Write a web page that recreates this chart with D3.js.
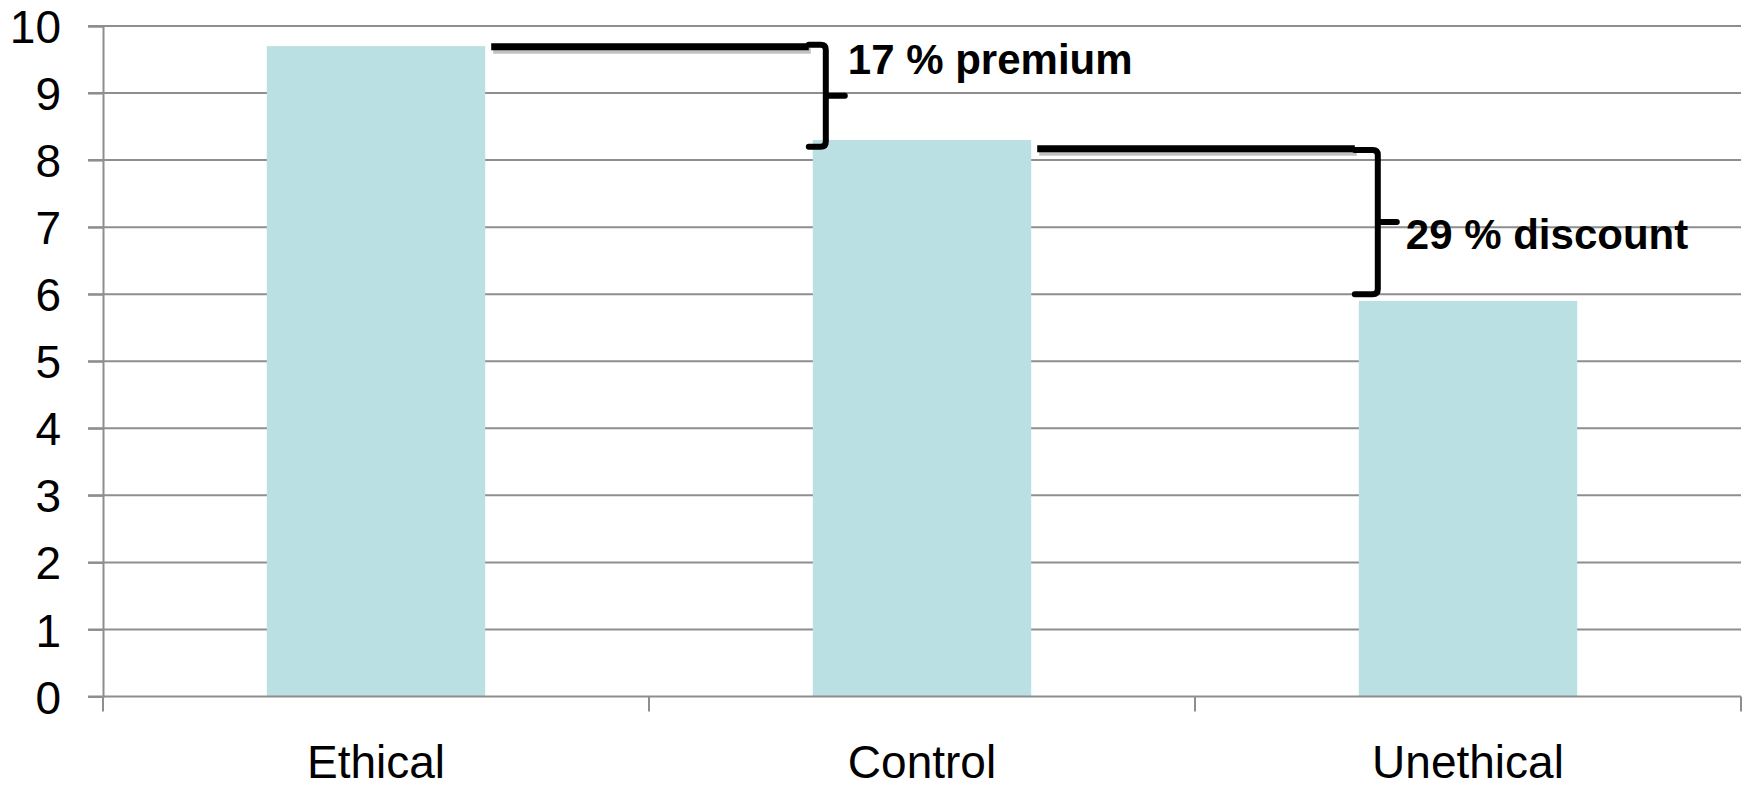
<!DOCTYPE html>
<html>
<head>
<meta charset="utf-8">
<script src="https://cdn.jsdelivr.net/npm/d3@7"></script>
<style>
  html, body { margin: 0; padding: 0; background: #ffffff; }
  svg { display: block; }
  text { font-family: "Liberation Sans", Arial, sans-serif; fill: #000; }
</style>
</head>
<body>
<svg id="chart" width="1746" height="789"></svg>
<script>
// ---- data ----
const categories = ["Ethical", "Control", "Unethical"];
const values = [9.7, 8.3, 5.9];
const yTicks = [0, 1, 2, 3, 4, 5, 6, 7, 8, 9, 10];

// annotations: comparison line drawn from bar "from" to bar "to"
const annFrom = ["Ethical", "Control"];
const annTo = ["Control", "Unethical"];
const annLineValue = [9.69, 8.17];
const annBraceTop = [9.72, 8.15];
const annBraceBottom = [8.2, 6.0];
const annLabels = ["17 % premium", "29 % discount"];
const annLabelBaseline = [9.28, 6.67];
const annBraceOffset = [17, 23];
const annLabelGap = [3, 9];

// ---- layout ----
const W = 1746, H = 789;
const plotLeft = 103, plotRight = 1741, plotTop = 26, plotBottom = 696.5;
const barColor = "#BAE0E3";
const gridColor = "#8E8E8E";

const svg = d3.select("#chart");

const x = d3.scaleBand().domain(categories).range([plotLeft, plotRight]).padding(0);
const y = d3.scaleLinear().domain([0, 10]).range([plotBottom, plotTop]);
const barW = x.bandwidth() * 0.4;
const barX = c => x(c) + (x.bandwidth() - barW) / 2;

// gridlines
svg.append("g").selectAll("line").data(yTicks.filter(t => t > 0)).join("line")
  .attr("x1", plotLeft - 15).attr("x2", plotRight)
  .attr("y1", d => y(d)).attr("y2", d => y(d))
  .attr("stroke", gridColor).attr("stroke-width", 2);

// bars
svg.append("g").selectAll("rect").data(categories).join("rect")
  .attr("x", d => barX(d))
  .attr("width", barW)
  .attr("y", (d, i) => y(values[i]))
  .attr("height", (d, i) => y(0) - y(values[i]))
  .attr("fill", barColor);

// y axis
const yAxis = d3.axisLeft(y).tickValues(yTicks).tickSize(15).tickPadding(27).tickFormat(d3.format("d"));
const gy = svg.append("g").attr("transform", `translate(${plotLeft},0)`).call(yAxis);
gy.select(".domain").attr("stroke", gridColor).attr("stroke-width", 2);
gy.selectAll(".tick line").attr("stroke", gridColor).attr("stroke-width", 2);
gy.selectAll(".tick text").attr("font-size", 46).attr("font-family", "Liberation Sans, Arial, sans-serif")
  .attr("fill", "#000").attr("dy", "0.36em");

// x axis: baseline + boundary ticks
svg.append("line")
  .attr("x1", plotLeft - 15).attr("x2", plotRight)
  .attr("y1", y(0)).attr("y2", y(0))
  .attr("stroke", gridColor).attr("stroke-width", 2);
const boundaries = categories.map(c => x(c)).concat([x(categories[categories.length - 1]) + x.bandwidth()]);
svg.append("g").selectAll("line").data(boundaries).join("line")
  .attr("x1", d => d).attr("x2", d => d)
  .attr("y1", y(0)).attr("y2", y(0) + 15)
  .attr("stroke", gridColor).attr("stroke-width", 2);
svg.append("g").selectAll("text").data(categories).join("text")
  .attr("x", d => x(d) + x.bandwidth() / 2)
  .attr("y", 778)
  .attr("text-anchor", "middle")
  .attr("font-size", 46)
  .text(d => d);

// annotations
const ann = svg.append("g");
annFrom.forEach((f, i) => {
  const xStart = barX(f) + barW + 6;
  const xEnd = barX(annTo[i]) - 4;
  const ly = y(annLineValue[i]);
  // shadow
  ann.append("line")
    .attr("x1", xStart + 2).attr("x2", xEnd + 2)
    .attr("y1", ly + 4).attr("y2", ly + 4)
    .attr("stroke", "#b4b4b4").attr("stroke-width", 6).attr("opacity", 0.8);
  ann.append("line")
    .attr("x1", xStart).attr("x2", xEnd)
    .attr("y1", ly).attr("y2", ly)
    .attr("stroke", "#000").attr("stroke-width", 7);

  // brace
  const bx = xEnd + annBraceOffset[i];
  const yt = y(annBraceTop[i]);
  const yb = y(annBraceBottom[i]);
  const ym = (yt + yb) / 2;
  const r = 5;
  const p = d3.path();
  p.moveTo(xEnd, yt);
  p.lineTo(bx - r, yt);
  p.quadraticCurveTo(bx, yt, bx, yt + r);
  p.lineTo(bx, yb - r);
  p.quadraticCurveTo(bx, yb, bx - r, yb);
  p.lineTo(xEnd, yb);
  p.moveTo(bx, ym);
  p.lineTo(bx + 19, ym);
  ann.append("path").attr("d", p.toString())
    .attr("fill", "none").attr("stroke", "#000").attr("stroke-width", 6)
    .attr("stroke-linejoin", "round").attr("stroke-linecap", "round");

  ann.append("text")
    .attr("x", bx + 19 + annLabelGap[i])
    .attr("y", y(annLabelBaseline[i]))
    .attr("font-size", 42)
    .attr("font-weight", "bold")
    .text(annLabels[i]);
});
</script>
</body>
</html>
